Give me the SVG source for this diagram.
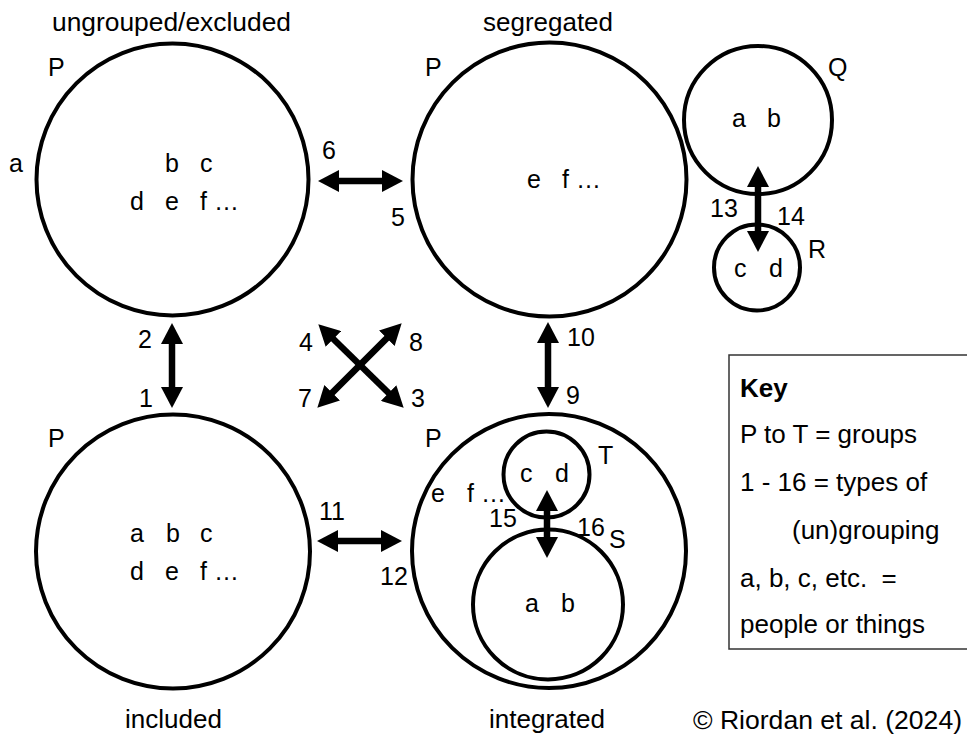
<svg xmlns="http://www.w3.org/2000/svg" width="967" height="736" viewBox="0 0 967 736">
<style>
text { font-family: "Liberation Sans", Arial, sans-serif; fill: #000; }
.lbl { font-size: 25px; }
.num { font-size: 25px; }
.title { font-size: 26px; }
.key { font-size: 26px; }
.keyh { font-size: 26px; font-weight: bold; }
.grp { fill: none; stroke: #000; stroke-width: 4; }
.arr { stroke: #000; stroke-width: 6.5; fill: none; marker-start: url(#ah); marker-end: url(#ah); }
</style>
<defs>
<marker id="ah" markerUnits="userSpaceOnUse" viewBox="0 0 21 22" refX="10" refY="11" markerWidth="21" markerHeight="22" orient="auto-start-reverse">
<path d="M0,0 L21,11 L0,22 z" fill="#000"/>
</marker>
</defs>
<rect width="967" height="736" fill="#fff"/>

<text class="title" x="52" y="31" textLength="239" lengthAdjust="spacingAndGlyphs">ungrouped/excluded</text>
<text class="title" x="483" y="31" textLength="130" lengthAdjust="spacingAndGlyphs">segregated</text>
<text class="title" x="125" y="728" textLength="97" lengthAdjust="spacingAndGlyphs">included</text>
<text class="title" x="489" y="728" textLength="116" lengthAdjust="spacingAndGlyphs">integrated</text>
<text class="key" x="693" y="729" textLength="269" lengthAdjust="spacingAndGlyphs">© Riordan et al. (2024)</text>

<g id="node-ungrouped">
<circle class="grp" cx="172.5" cy="179.5" r="136"/>
<text class="lbl" x="48" y="76">P</text>
<text class="lbl" x="9" y="172">a</text>
<text class="lbl" y="172"><tspan x="165">b</tspan><tspan x="200">c</tspan></text>
<text class="lbl" y="210"><tspan x="130">d</tspan><tspan x="165">e</tspan><tspan x="200">f …</tspan></text>
</g>

<g id="node-segregated-P">
<circle class="grp" cx="549.5" cy="179.5" r="137"/>
<text class="lbl" x="425" y="76">P</text>
<text class="lbl" y="188"><tspan x="527">e</tspan><tspan x="562">f …</tspan></text>
</g>

<g id="node-Q">
<circle class="grp" cx="758" cy="120" r="74"/>
<text class="lbl" x="828" y="76">Q</text>
<text class="lbl" y="127"><tspan x="732">a</tspan><tspan x="767">b</tspan></text>
</g>

<g id="node-R">
<circle class="grp" cx="757" cy="267.5" r="43"/>
<text class="lbl" x="808" y="258">R</text>
<text class="lbl" y="277"><tspan x="734">c</tspan><tspan x="769">d</tspan></text>
</g>

<g id="node-included">
<circle class="grp" cx="173" cy="551.5" r="137"/>
<text class="lbl" x="48" y="447">P</text>
<text class="lbl" y="542"><tspan x="130">a</tspan><tspan x="166">b</tspan><tspan x="200">c</tspan></text>
<text class="lbl" y="580"><tspan x="130">d</tspan><tspan x="165">e</tspan><tspan x="200">f …</tspan></text>
</g>

<g id="node-integrated-P">
<circle class="grp" cx="549" cy="551" r="137"/>
<text class="lbl" x="425" y="447">P</text>
<text class="lbl" y="502"><tspan x="431">e</tspan><tspan x="467">f …</tspan></text>
</g>

<g id="node-T">
<circle class="grp" cx="546.5" cy="474.5" r="43"/>
<text class="lbl" x="598" y="464">T</text>
<text class="lbl" y="482"><tspan x="520">c</tspan><tspan x="555">d</tspan></text>
</g>

<g id="node-S">
<circle class="grp" cx="548" cy="604.5" r="75"/>
<text class="lbl" x="609" y="548">S</text>
<text class="lbl" y="612"><tspan x="525">a</tspan><tspan x="561">b</tspan></text>
</g>

<g id="connectors">
<line class="arr" x1="329" y1="181" x2="392" y2="181"/>
<line class="arr" x1="328" y1="541" x2="391" y2="541"/>
<line class="arr" x1="172" y1="334" x2="172" y2="397"/>
<line class="arr" x1="548" y1="333" x2="548" y2="397"/>
<line class="arr" x1="758" y1="177" x2="758" y2="241"/>
<line class="arr" x1="547" y1="501" x2="547" y2="547"/>
<line class="arr" x1="326.2" y1="332" x2="395.8" y2="400"/>
<line class="arr" x1="393.9" y1="331.1" x2="325.1" y2="399.9"/>
</g>

<g id="connector-labels">
<text class="num" x="322" y="159">6</text>
<text class="num" x="391" y="226">5</text>
<text class="num" x="138" y="348">2</text>
<text class="num" x="139" y="407">1</text>
<text class="num" x="299" y="351">4</text>
<text class="num" x="409" y="351">8</text>
<text class="num" x="298" y="407">7</text>
<text class="num" x="411" y="407">3</text>
<text class="num" x="567" y="346">10</text>
<text class="num" x="566" y="404">9</text>
<text class="num" x="319" y="520">11</text>
<text class="num" x="380" y="585">12</text>
<text class="num" x="710" y="217">13</text>
<text class="num" x="777" y="225">14</text>
<text class="num" x="489" y="527">15</text>
<text class="num" x="577" y="536">16</text>
</g>

<g id="key">
<rect x="729" y="355" width="245" height="294" fill="none" stroke="#333" stroke-width="1.5"/>
<text class="keyh" x="740" y="397">Key</text>
<text class="key" x="740" y="443">P to T = groups</text>
<text class="key" x="740" y="491">1 - 16 = types of</text>
<text class="key" x="792" y="539">(un)grouping</text>
<text class="key" x="740" y="587" xml:space="preserve">a, b, c, etc.  =</text>
<text class="key" x="740" y="633">people or things</text>
</g>
</svg>
